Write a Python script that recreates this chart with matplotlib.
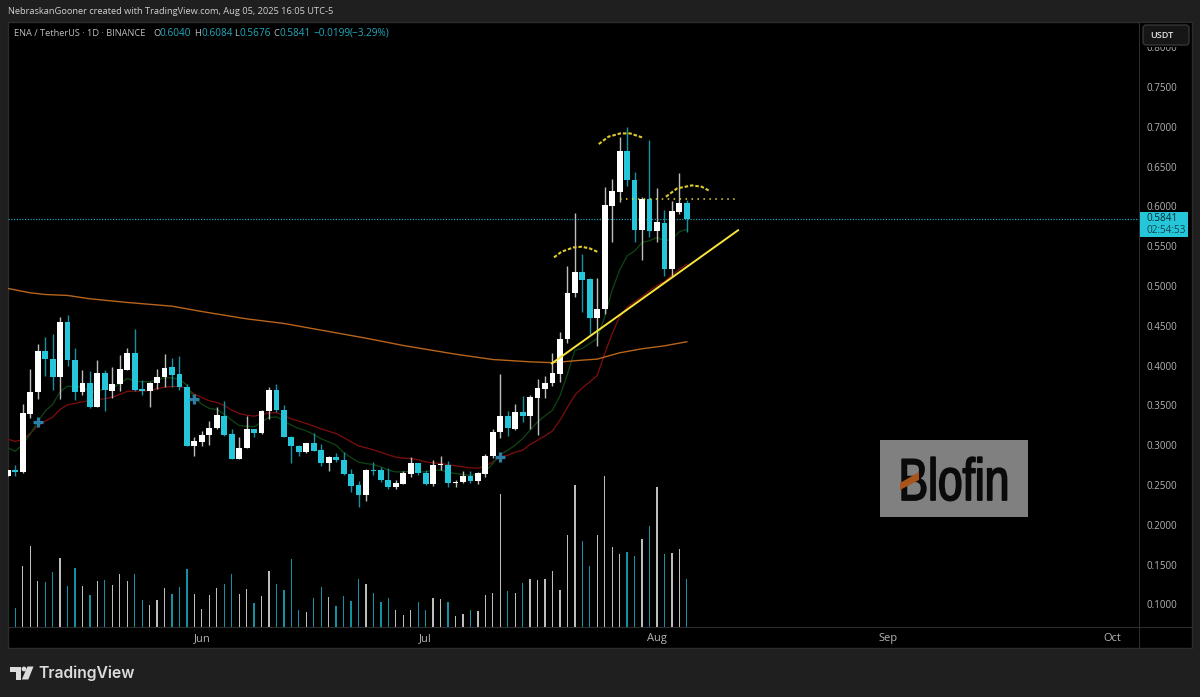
import numpy as np
import matplotlib
matplotlib.use('Agg')
import matplotlib.pyplot as plt
from matplotlib.patches import Rectangle, FancyBboxPatch, Polygon, Circle
from matplotlib.transforms import Affine2D
import matplotlib.patheffects as pe

# ENA/USDT daily candles, 6 May - 5 Aug 2025
opens = [.2614,.2686,.2661,.3394,.3666,.4182,.4077,.3855,.4542,.4068,.3666,.3779,.3482,.3901,.3683,.3767,.3947,.4161,.3704,.3675,.3775,.3855,.3980,.3888,.3729,.2992,.3042,.3126,.3214,.3369,.3138,.2824,.2962,.3209,
         .3154,.3427,.3699,.3447,.3108,.2995,.2911,.3028,.2936,.2781,.2848,.2819,.2643,.2496,.2371,.2693,.2685,.2568,.2475,.2517,.2635,.2777,.2656,.2509,.2748,.2748,.2526,.2538,.2609,.2551,.2639,.2861,.3163,.3368,
         .3205,.3418,.3364,.3594,.3704,.3775,.3892,.4328,.4906,.5174,.5082,.4596,.4705,.6008,.6180,.6695,.6335,.5702,.6088,.5690,.5794,.5212,.5929,.6040]
closes = [.2686,.2665,.3398,.3670,.4182,.4077,.3855,.4542,.4068,.3666,.3779,.3482,.3901,.3687,.3771,.3951,.4161,.3691,.3679,.3779,.3859,.3968,.3880,.3725,.2992,.3046,.3130,.3218,.3373,.3130,.2824,.2966,.3209,.3151,
          .3431,.3699,.3443,.3100,.2991,.2911,.3028,.2928,.2777,.2848,.2811,.2639,.2488,.2371,.2685,.2677,.2559,.2480,.2526,.2647,.2777,.2647,.2509,.2748,.2760,.2521,.2543,.2609,.2547,.2647,.2869,.3167,.3368,.3217,
          .3418,.3364,.3607,.3712,.3779,.3901,.4332,.4915,.5174,.5078,.4596,.4713,.6017,.6188,.6695,.6335,.5702,.6088,.5694,.5799,.5212,.5937,.6038,.5841]
highs = [.2690,.2749,.3511,.3951,.4270,.4353,.4391,.4613,.4634,.4219,.3943,.3930,.4068,.3943,.3976,.4131,.4219,.4462,.3817,.3796,.3951,.4140,.4089,.4119,.3763,.3096,.3180,.3302,.3478,.3549,.3201,.3096,.3364,.3209,
         .3447,.3732,.3774,.3510,.3112,.2999,.3033,.3158,.3020,.2869,.2899,.2915,.2706,.2547,.2706,.2790,.2727,.2718,.2568,.2672,.2857,.2781,.2685,.2819,.2869,.2798,.2568,.2672,.2677,.2664,.2894,.3209,.3892,.3431,
         .3523,.3619,.3628,.3825,.3871,.4160,.4416,.5254,.5912,.5396,.5095,.5103,.6247,.6343,.6875,.7001,.6436,.6113,.6834,.6226,.5954,.6067,.6415,.6084]
lows = [.2610,.2614,.2655,.3335,.3574,.3871,.3691,.3574,.3993,.3566,.3633,.3469,.3478,.3423,.3587,.3675,.3943,.3679,.3633,.3482,.3700,.3733,.3725,.3691,.2992,.2866,.2992,.3004,.3205,.3117,.2824,.2820,.2958,.3105,
        .3146,.3334,.3418,.3100,.2781,.2865,.2907,.2928,.2739,.2672,.2790,.2622,.2413,.2224,.2299,.2630,.2538,.2450,.2450,.2509,.2601,.2622,.2501,.2488,.2693,.2475,.2480,.2530,.2530,.2513,.2601,.2844,.3091,.3116,
        .3196,.3293,.3200,.3133,.3595,.3746,.3796,.4278,.4856,.4676,.4395,.4244,.4646,.5547,.6058,.6260,.5547,.5329,.5610,.5547,.5128,.5107,.5899,.5676]
volumes = [0,19,61,81,46,45,55,69,41,59,41,32,46,47,42,53,46,53,27,22,27,39,33,40,58,33,18,32,39,43,53,33,38,24,31,56,43,37,68,17,15,29,40,30,21,31,26,48,43,34,25,29,17,12,17,25,17,29,28,25,11,13,17,16,32,34,133,36,34,44,48,47,48,56,37,92,142,86,61,92,151,80,73,75,71,88,101,140,73,74,78,48]

red_ema = [.3075,.3046,.3071,.3147,.3243,.3302,.3352,.3448,.3507,.3524,.3545,.3561,.3574,.3582,.3603,.3637,.3675,.3679,.3679,.3687,.3708,.3729,.3737,.3737,.3712,.3641,.3599,.3557,.3536,.3499,.3440,.3398,.3377,.3364,
           .3385,.3406,.3406,.3372,.3330,.3301,.3272,.3238,.3204,.3175,.3146,.3096,.3041,.2991,.2966,.2941,.2911,.2878,.2848,.2836,.2832,.2815,.2790,.2777,.2769,.2756,.2739,.2727,.2714,.2710,.2735,.2790,.2852,.2873,
           .2911,.2936,.3008,.3062,.3117,.3179,.3313,.3473,.3628,.3720,.3796,.3875,.4152,.4403,.4613,.4730,.4801,.4864,.4940,.5003,.5053,.5137,.5212,.5275]
green_ema = [.2966,.2924,.3008,.3138,.3293,.3427,.3511,.3670,.3742,.3733,.3733,.3670,.3670,.3712,.3712,.3775,.3838,.3804,.3796,.3796,.3817,.3846,.3846,.3825,.3754,.3587,.3515,.3461,.3448,.3390,.3314,.3247,.3239,.3230,
             .3290,.3347,.3355,.3305,.3251,.3209,.3179,.3133,.3079,.3041,.2999,.2907,.2844,.2786,.2769,.2756,.2727,.2685,.2664,.2664,.2672,.2664,.2664,.2685,.2685,.2660,.2643,.2630,.2622,.2630,.2672,.2769,.2882,.2936,
             .3000,.3083,.3188,.3293,.3368,.3440,.3620,.3890,.4194,.4215,.4278,.4341,.4613,.4948,.5199,.5380,.5438,.5547,.5568,.5610,.5568,.5585,.5681,.5711]
orange_idx = [0,3,5,8,11,16,22,26,32,37,43,48,53,60,65,70,73,77,79,82,85,88,91]
orange_ma = [.4969,.4914,.4893,.4881,.4839,.4793,.4746,.4679,.4587,.4529,.4428,.4344,.4252,.4143,.4076,.4047,.4036,.4068,.4081,.4160,.4211,.4248,.4299]

cross_idx = [4, 25, 66]
cross_price = [.3292, .3586, .2851]

trend_x = [72.9, 97.9]
trend_y = [.4026, .5702]
neck_x = [82, 97.5]
neck_y = [.6088, .6088]
arc_left_x = [73.2, 74.2, 75.8, 76.9, 78.0, 79.0]
arc_left_y = [.5359, .5430, .5484, .5493, .5472, .5430]
arc_mid_x = [79.2, 80.5, 82.1, 83.4, 85.0]
arc_mid_y = [.6783, .6876, .6917, .6917, .6867]
arc_right_x = [88.2, 89.7, 91.7, 93.0, 94.0]
arc_right_y = [.6121, .6226, .6264, .6247, .6197]

price_ticks = [.1, .15, .2, .25, .3, .35, .4, .45, .5, .55, .6, .65, .7, .75, .8]
month_ticks = [26, 56, 87, 118, 148]
month_labels = ['Jun', 'Jul', 'Aug', 'Sep', 'Oct']

WHITE = '#ffffff'
CYAN = '#26c6da'
BG = '#1f1f1f'
FONT = ['Open Sans', 'DejaVu Sans']

W, H = 1200, 697


class Squeeze(pe.AbstractPathEffect):
    # narrows a text around a centre, no condensed font is installed
    def __init__(self, factor, cx, stroke):
        super().__init__()
        self.factor, self.cx, self.stroke = factor, cx, stroke

    def draw_path(self, renderer, gc, tpath, affine, rgbFace=None):
        squeezed = affine + Affine2D().translate(-self.cx, 0).scale(self.factor, 1).translate(self.cx, 0)
        gc0 = renderer.new_gc()
        gc0.copy_properties(gc)
        gc0.set_linewidth(self.stroke)
        gc0.set_foreground(rgbFace)
        renderer.draw_path(gc0, tpath, squeezed, rgbFace)
        gc0.restore()


fig = plt.figure(figsize=(W / 100, H / 100), dpi=100, facecolor=BG)
px = Affine2D().scale(1, -1).translate(0, H)  # picture pixels, origin top left

# panel frame
fig.add_artist(Rectangle((8, 22), 1184, 626, transform=px, facecolor='black', edgecolor='#2c2c2c', lw=1, zorder=-2))

x0, x1, y0, y1 = 8, 1139.3, 22, 627.3
ax = fig.add_axes([x0 / W, 1 - y1 / H, (x1 - x0) / W, (y1 - y0) / H])
ax.set_zorder(2)
ax.patch.set_visible(False)
xs = np.arange(len(opens))
ax.set_xlim(0.02, 151.65)
ax.set_ylim(.0711, .8317)

# volume pane on its own scale
vol = ax.twinx()
vol.set_zorder(1)
vol.set_ylim(0, 605)
vol.set_yticks([])
for s in vol.spines.values():
    s.set_visible(False)

up = np.array(closes) >= np.array(opens)
vol_colors = ['#bdbdbd' if u else '#1491a5' for u in up]
vol.bar(xs, volumes, width=0.17, color=vol_colors, linewidth=0)

# indicators under the candles
ax.plot(xs, red_ema, color='#7a0d0d', lw=0.95, zorder=2)
ax.plot(xs, green_ema, color='#0f4312', lw=0.95, zorder=2)
ax.plot(orange_idx, orange_ma, color='#b8641c', lw=1.0, zorder=2)
ax.axhline(closes[-1], color='#1c9db2', lw=0.9, ls=(0, (1, 1.2)), zorder=2)

# candles
wick_colors = ['#bdbdbd' if u else '#1491a5' for u in up]
ax.vlines(xs, lows, highs, colors=wick_colors, lw=1.0, zorder=3)
body_low = np.minimum(opens, closes)
body_h = np.abs(np.array(closes) - np.array(opens))
ax.bar(xs, body_h, bottom=body_low, width=0.78, color=[WHITE if u else CYAN for u in up], linewidth=0, zorder=4)

ax.scatter(cross_idx, cross_price, marker='+', s=58, linewidths=2.3, color='#2c7fa6', zorder=5)

# hand drawn tools
ax.plot(trend_x, trend_y, color='#f7e53b', lw=1.4, zorder=6, solid_capstyle='round')
ax.plot(neck_x, neck_y, color='#e8d733', lw=1.1, ls=(0, (1, 2.9)), zorder=6)
for ax_x, ax_y in [(arc_left_x, arc_left_y), (arc_mid_x, arc_mid_y), (arc_right_x, arc_right_y)]:
    ax.plot(ax_x, ax_y, color='#dccb2e', lw=1.5, ls=(0, (1.7, 0.9)), zorder=6)

# axes
ax.yaxis.tick_right()
ax.set_yticks(price_ticks)
ax.set_yticklabels(['%.4f' % p for p in price_ticks], fontfamily=FONT, fontsize=7, color='#b4b4b4')
ax.set_xticks(month_ticks)
ax.set_xticklabels(month_labels, fontfamily=FONT, fontsize=8, color='#b4b4b4')
ax.tick_params(axis='y', length=0, pad=5)
ax.tick_params(axis='x', length=0, pad=4)
for name, s in ax.spines.items():
    s.set_color('#2c2c2c')
    s.set_linewidth(0.8)
    s.set_visible(name in ('right', 'bottom'))

# bottom of the price axis column
fig.add_artist(plt.Line2D([1139.3, 1139.3], [627, 648], transform=px, color='#2c2c2c', lw=0.8, zorder=3))
fig.add_artist(plt.Line2D([1139, 1192], [627.3, 627.3], transform=px, color='#2c2c2c', lw=0.8, zorder=3))


# header
def label(x, y, s, color='#bdbdbd', size=6.7, **kw):
    kw.setdefault('family', FONT)
    return fig.text(x, y, s, transform=px, color=color, fontsize=size, va='center', zorder=8, **kw)


label(8, 11.5, 'NebraskanGooner created with TradingView.com, Aug 05, 2025 16:05 UTC-5', color='#d0d0d0', size=6.65)
label(14.5, 33, 'ENA / TetherUS · 1D · BINANCE')
TEAL = '#22a9bd'
for lx, name, vx, val in [(153, 'O', 160, '0.6040'), (194, 'H', 201, '0.6084'),
                          (234, 'L', 240, '0.5676'), (273, 'C', 280, '0.5841')]:
    label(lx, 33, name)
    label(vx, 33, val, color=TEAL, size=7.2)
label(314, 33, '\u22120.0199', color=TEAL, size=7.2)
label(350, 33, '(\u22123.29%)', color=TEAL, size=7.2)

# USDT button, it hides most of the top price label
fig.add_artist(Rectangle((1140, 23), 51, 24, transform=px, facecolor='black', edgecolor='none', zorder=5))
fig.add_artist(FancyBboxPatch((1145, 27), 42, 16, boxstyle='round,pad=2,rounding_size=3', transform=px,
                              facecolor='#161616', edgecolor='#3a3a3a', lw=0.9, zorder=6))
label(1150, 35.5, 'USDT', color='#e0e0e0', size=6.6, weight='semibold')

# last price tag
fig.add_artist(Rectangle((1140, 212), 48, 25, transform=px, facecolor=CYAN, edgecolor='none', zorder=6))
label(1146.5, 218.5, '0.5841', color='#06282e', size=7.2)
label(1146.5, 230.5, '02:54:53', color='#0c4650', size=7.2)

# Blofin sticker
fig.add_artist(Rectangle((880, 440), 148.3, 77.3, transform=px, facecolor='#808080', edgecolor='none', zorder=6))
fig.text(954, 500, 'Blofin', transform=px, color='#0a0a0a', fontsize=42.5, ha='center', va='baseline', zorder=8,
         family='Liberation Sans', path_effects=[Squeeze(0.75, 954, 1.3)])
fig.add_artist(Polygon([(900, 483), (919, 472), (919, 480), (900, 490)], transform=px, facecolor='#a8541a',
                       edgecolor='none', zorder=9))

# TradingView logo
LOGO = '#dcdcdc'
fig.add_artist(Polygon([(9.5, 666.5), (21, 666.5), (21, 679.5), (15.5, 679.5), (15.5, 671.5), (9.5, 671.5)],
                       transform=px, facecolor=LOGO, edgecolor='none', zorder=8))
fig.add_artist(Circle((24, 669), 2.4, transform=px, facecolor=LOGO, edgecolor='none', zorder=8))
fig.add_artist(Polygon([(27.5, 666.5), (33.5, 666.5), (28.3, 679.5), (21.8, 679.5)], transform=px, facecolor=LOGO,
                       edgecolor='none', zorder=8))
label(38.5, 673, 'TradingView', color=LOGO, size=11.3, weight='semibold', family=['Inter', 'DejaVu Sans'])

fig.savefig('out.png', dpi=100, facecolor=BG)
